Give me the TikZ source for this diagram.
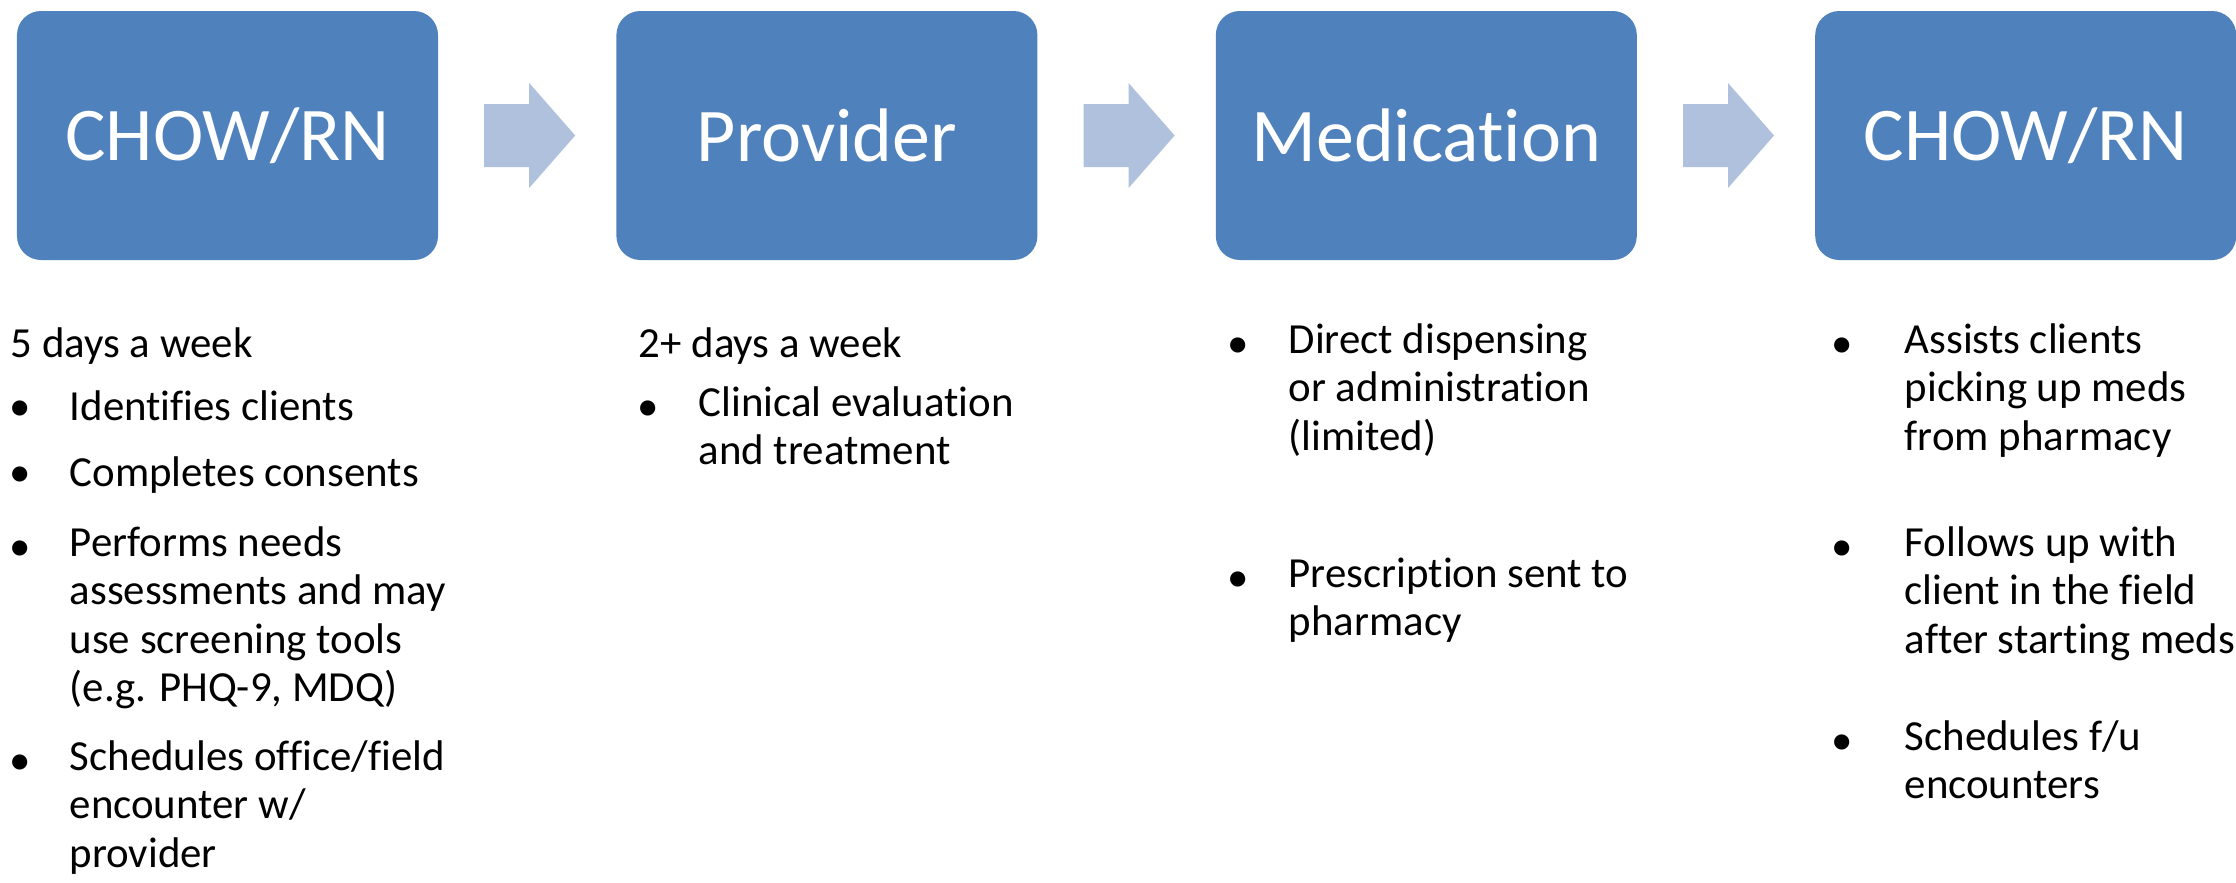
\documentclass[tikz,border=0pt]{standalone}
\usepackage{fontspec}
\setmainfont{Carlito}[Ligatures=NoCommon]
\usetikzlibrary{positioning,calc}
\definecolor{boxblue}{RGB}{79,129,189}
\definecolor{arrowblue}{RGB}{176,193,221}
\tikzset{
  stage/.style={rectangle, rounded corners=0.24cm, fill=boxblue, text=white,
    minimum width=4.21cm, minimum height=2.49cm, inner sep=0pt,
    font=\fontsize{21.6}{26}\selectfont},
  note/.style={anchor=north west, yshift=0.337cm, align=left, inner sep=0pt,
    execute at begin node=\strut, font=\fontsize{12.2}{13.7}\selectfont},
  dot/.style={anchor=base, inner sep=0pt, font=\fontsize{12.2}{13.7}\selectfont},
  flow/.style={fill=arrowblue},
}
\begin{document}
\begin{tikzpicture}
    \useasboundingbox (0,0) rectangle (22.36,-8.83);

    % stages
    \node[stage] (s1) at (2.275,-1.355) {CHOW/RN};
    \node[stage, right=1.77cm of s1] (s2) {Provider};
    \node[stage, right=1.77cm of s2] (s3) {Medication};
    \node[stage, right=1.77cm of s3] (s4) {CHOW/RN};

    % block arrows between the stages
    \foreach \a/\b in {s1/s2, s2/s3, s3/s4} {
        \coordinate (m) at ($(\a.east)!0.5!(\b.west)$);
        \fill[flow] ($(m)+(-0.43,0.315)$) -- ($(m)+(0.02,0.315)$) -- ($(m)+(0.02,0.525)$)
            -- ($(m)+(0.48,0)$) -- ($(m)+(0.02,-0.525)$) -- ($(m)+(0.02,-0.315)$)
            -- ($(m)+(-0.43,-0.315)$) -- cycle;
    }

    % CHOW/RN
    \node[note] (h1) at (0.10,-3.57) {5 days a week};
    \node[dot] (d11) at (0.20,-4.20) {•};
    \node[note] (t11) at (0.69,-4.20) {Identifies clients};
    \node[dot] (d12) at (0.20,-4.86) {•};
    \node[note] (t12) at (0.69,-4.86) {Completes consents};
    \node[dot] (d13) at (0.20,-5.60) {•};
    \node[note] (t13) at (0.69,-5.60) {Performs needs\\assessments and may\\use screening tools\\(e.g. PHQ-9, MDQ)};
    \node[dot] (d14) at (0.20,-7.74) {•};
    \node[note] (t14) at (0.69,-7.74) {Schedules office/field\\encounter w/\\provider};

    % Provider
    \node[note] (h2) at (6.38,-3.57) {2+ days a week};
    \node[dot] (d21) at (6.48,-4.20) {•};
    \node[note] (t21) at (6.98,-4.20) {Clinical evaluation\\and treatment};

    % Medication
    \node[dot] (d31) at (12.38,-3.57) {•};
    \node[note] (t31) at (12.88,-3.57) {Direct dispensing\\or administration\\(limited)};
    \node[dot] (d32) at (12.38,-5.91) {•};
    \node[note] (t32) at (12.88,-5.91) {Prescription sent to\\pharmacy};

    % CHOW/RN again
    \node[dot] (d41) at (18.42,-3.57) {•};
    \node[note] (t41) at (19.04,-3.57) {Assists clients\\picking up meds\\from pharmacy};
    \node[dot] (d42) at (18.42,-5.60) {•};
    \node[note] (t42) at (19.04,-5.60) {Follows up with\\client in the field\\after starting meds};
    \node[dot] (d43) at (18.42,-7.54) {•};
    \node[note] (t43) at (19.04,-7.54) {Schedules f/u\\encounters};
\end{tikzpicture}
\end{document}
